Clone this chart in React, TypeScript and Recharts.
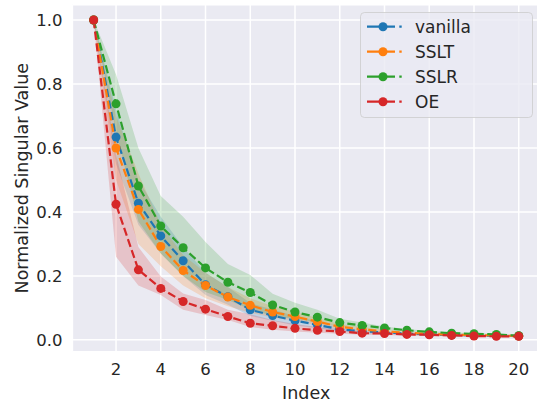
import React from 'react';
import { ComposedChart, Line, Area, XAxis, YAxis, CartesianGrid } from 'recharts';

// Singular value index
const indices = [1, 2, 3, 4, 5, 6, 7, 8, 9, 10, 11, 12, 13, 14, 15, 16, 17, 18, 19, 20];

// Mean normalized singular values per method
const vanillaMean = [1.0, 0.634, 0.427, 0.325, 0.247, 0.172, 0.135, 0.094, 0.076, 0.06, 0.047, 0.033, 0.027, 0.023, 0.02, 0.017, 0.015, 0.014, 0.013, 0.012];
const ssltMean = [1.0, 0.6, 0.408, 0.292, 0.217, 0.17, 0.134, 0.108, 0.087, 0.073, 0.057, 0.041, 0.033, 0.027, 0.022, 0.019, 0.016, 0.015, 0.014, 0.012];
const sslrMean = [1.0, 0.738, 0.481, 0.356, 0.288, 0.225, 0.18, 0.148, 0.109, 0.087, 0.071, 0.054, 0.045, 0.037, 0.03, 0.025, 0.021, 0.019, 0.017, 0.013];
const oeMean = [1.0, 0.424, 0.219, 0.161, 0.12, 0.096, 0.073, 0.052, 0.044, 0.036, 0.03, 0.026, 0.021, 0.02, 0.017, 0.016, 0.014, 0.012, 0.011, 0.011];

// Spread (lower / upper bound) per method
const vanillaLow = [1.0, 0.55, 0.36, 0.27, 0.2, 0.14, 0.11, 0.075, 0.06, 0.045, 0.036, 0.026, 0.021, 0.018, 0.016, 0.014, 0.012, 0.011, 0.01, 0.009];
const vanillaHigh = [1.0, 0.72, 0.5, 0.385, 0.29, 0.21, 0.165, 0.115, 0.095, 0.075, 0.058, 0.042, 0.034, 0.028, 0.024, 0.02, 0.018, 0.017, 0.015, 0.014];
const ssltLow = [1.0, 0.5, 0.3, 0.23, 0.17, 0.13, 0.105, 0.085, 0.07, 0.06, 0.046, 0.033, 0.027, 0.022, 0.018, 0.016, 0.013, 0.012, 0.011, 0.01];
const ssltHigh = [1.0, 0.7, 0.52, 0.36, 0.265, 0.21, 0.165, 0.13, 0.105, 0.088, 0.068, 0.05, 0.04, 0.032, 0.026, 0.022, 0.019, 0.018, 0.016, 0.014];
const sslrLow = [1.0, 0.65, 0.37, 0.27, 0.2, 0.15, 0.125, 0.095, 0.075, 0.065, 0.055, 0.042, 0.036, 0.03, 0.025, 0.021, 0.018, 0.016, 0.014, 0.011];
const sslrHigh = [1.0, 0.83, 0.6, 0.45, 0.385, 0.306, 0.237, 0.203, 0.144, 0.116, 0.094, 0.066, 0.054, 0.042, 0.034, 0.028, 0.024, 0.021, 0.019, 0.015];
const oeLow = [1.0, 0.26, 0.17, 0.14, 0.094, 0.078, 0.062, 0.04, 0.032, 0.026, 0.022, 0.019, 0.016, 0.015, 0.013, 0.012, 0.011, 0.009, 0.009, 0.008];
const oeHigh = [1.0, 0.58, 0.29, 0.198, 0.145, 0.125, 0.094, 0.08, 0.062, 0.05, 0.04, 0.034, 0.027, 0.025, 0.021, 0.02, 0.017, 0.015, 0.013, 0.013];

const xTicks = [2, 4, 6, 8, 10, 12, 14, 16, 18, 20];
const yTicks = [0.0, 0.2, 0.4, 0.6, 0.8, 1.0];

const series = [
  { key: 'vanilla', name: 'vanilla', color: '#1f77b4', mean: vanillaMean, low: vanillaLow, high: vanillaHigh },
  { key: 'sslt', name: 'SSLT', color: '#ff7f0e', mean: ssltMean, low: ssltLow, high: ssltHigh },
  { key: 'sslr', name: 'SSLR', color: '#2ca02c', mean: sslrMean, low: sslrLow, high: sslrHigh },
  { key: 'oe', name: 'OE', color: '#d62728', mean: oeMean, low: oeLow, high: oeHigh },
];

const data = indices.map((idx, i) => {
  const row: Record<string, any> = { idx };
  series.forEach((s) => {
    row[s.key] = s.mean[i];
    row[s.key + 'Band'] = [s.low[i], s.high[i]];
  });
  return row;
});

const FONT = '"DejaVu Sans", sans-serif';
const TEXT = '#262626';

function Legend() {
  return (
    <svg
      width={174}
      height={107}
      style={{ position: 'absolute', left: 360, top: 12, overflow: 'visible' }}
    >
      <rect x={0.5} y={0.5} width={172} height={105} rx={4} ry={4}
        fill="rgba(234,234,242,0.8)" stroke="rgba(204,204,204,0.8)" strokeWidth={1} />
      {series.map((s, i) => {
        const cy = 14.7 + i * 25;
        return (
          <g key={s.key}>
            <line x1={7} x2={42} y1={cy} y2={cy} stroke={s.color} strokeWidth={2.2}
              strokeDasharray="28 4.3 2.4 10" />
            <circle cx={23} cy={cy} r={4.5} fill={s.color} />
            <text x={55} y={cy + 6} fontSize={17} fontFamily={FONT} fill={TEXT}>{s.name}</text>
          </g>
        );
      })}
    </svg>
  );
}

export default function App() {
  return (
    <div style={{ position: 'fixed', left: 0, top: 0, width: 537, height: 403, overflow: 'hidden', background: '#ffffff' }}>
      <ComposedChart width={541} height={403} data={data}
        margin={{ top: 4.7, right: 1, bottom: 0, left: 0 }}>
        <CartesianGrid fill="#eaeaf2" stroke="#ffffff" strokeWidth={1.5} />
        <XAxis
          type="number"
          dataKey="idx"
          domain={[0.05, 20.95]}
          ticks={xTicks}
          allowDataOverflow
          axisLine={false}
          tickLine={false}
          tickMargin={6}
          height={51.3}
          tick={{ fontSize: 16.5, fill: TEXT, fontFamily: FONT }}
          label={{
            content: (props: any) => {
              const vb = props.viewBox || { x: 72.4, y: 351.7, width: 467.6, height: 51.3 };
              return (
                <text x={vb.x + vb.width / 2} y={vb.y + 46.8} textAnchor="middle"
                  fontSize={17.5} fontFamily={FONT} fill={TEXT}>Index</text>
              );
            },
          }}
        />
        <YAxis
          type="number"
          domain={[-0.037, 1.048]}
          ticks={yTicks}
          allowDataOverflow
          axisLine={false}
          tickLine={false}
          tickMargin={4}
          width={72.4}
          tickFormatter={(v: number) => v.toFixed(1)}
          tick={{ fontSize: 16.5, fill: TEXT, fontFamily: FONT }}
          label={{
            content: (props: any) => {
              const vb = props.viewBox || { x: 0, y: 4.7, width: 72.4, height: 347 };
              const cy = vb.y + vb.height / 2;
              return (
                <text transform={`translate(28, ${cy}) rotate(-90)`} x={0} y={0} textAnchor="middle"
                  fontSize={17.5} fontFamily={FONT} fill={TEXT}>Normalized Singular Value</text>
              );
            },
          }}
        />
        {series.map((s) => (
          <React.Fragment key={s.key}>
            <Area
              type="linear"
              dataKey={s.key + 'Band'}
              stroke="none"
              fill={s.color}
              fillOpacity={0.2}
              isAnimationActive={false}
              activeDot={false}
            />
            <Line
              type="linear"
              dataKey={s.key}
              name={s.name}
              stroke={s.color}
              strokeWidth={2.2}
              strokeDasharray="8.2 3.5"
              dot={{ r: 4.5, fill: s.color, stroke: 'none', strokeDasharray: '' }}
              activeDot={false}
              isAnimationActive={false}
            />
          </React.Fragment>
        ))}
      </ComposedChart>
      <Legend />
    </div>
  );
}
